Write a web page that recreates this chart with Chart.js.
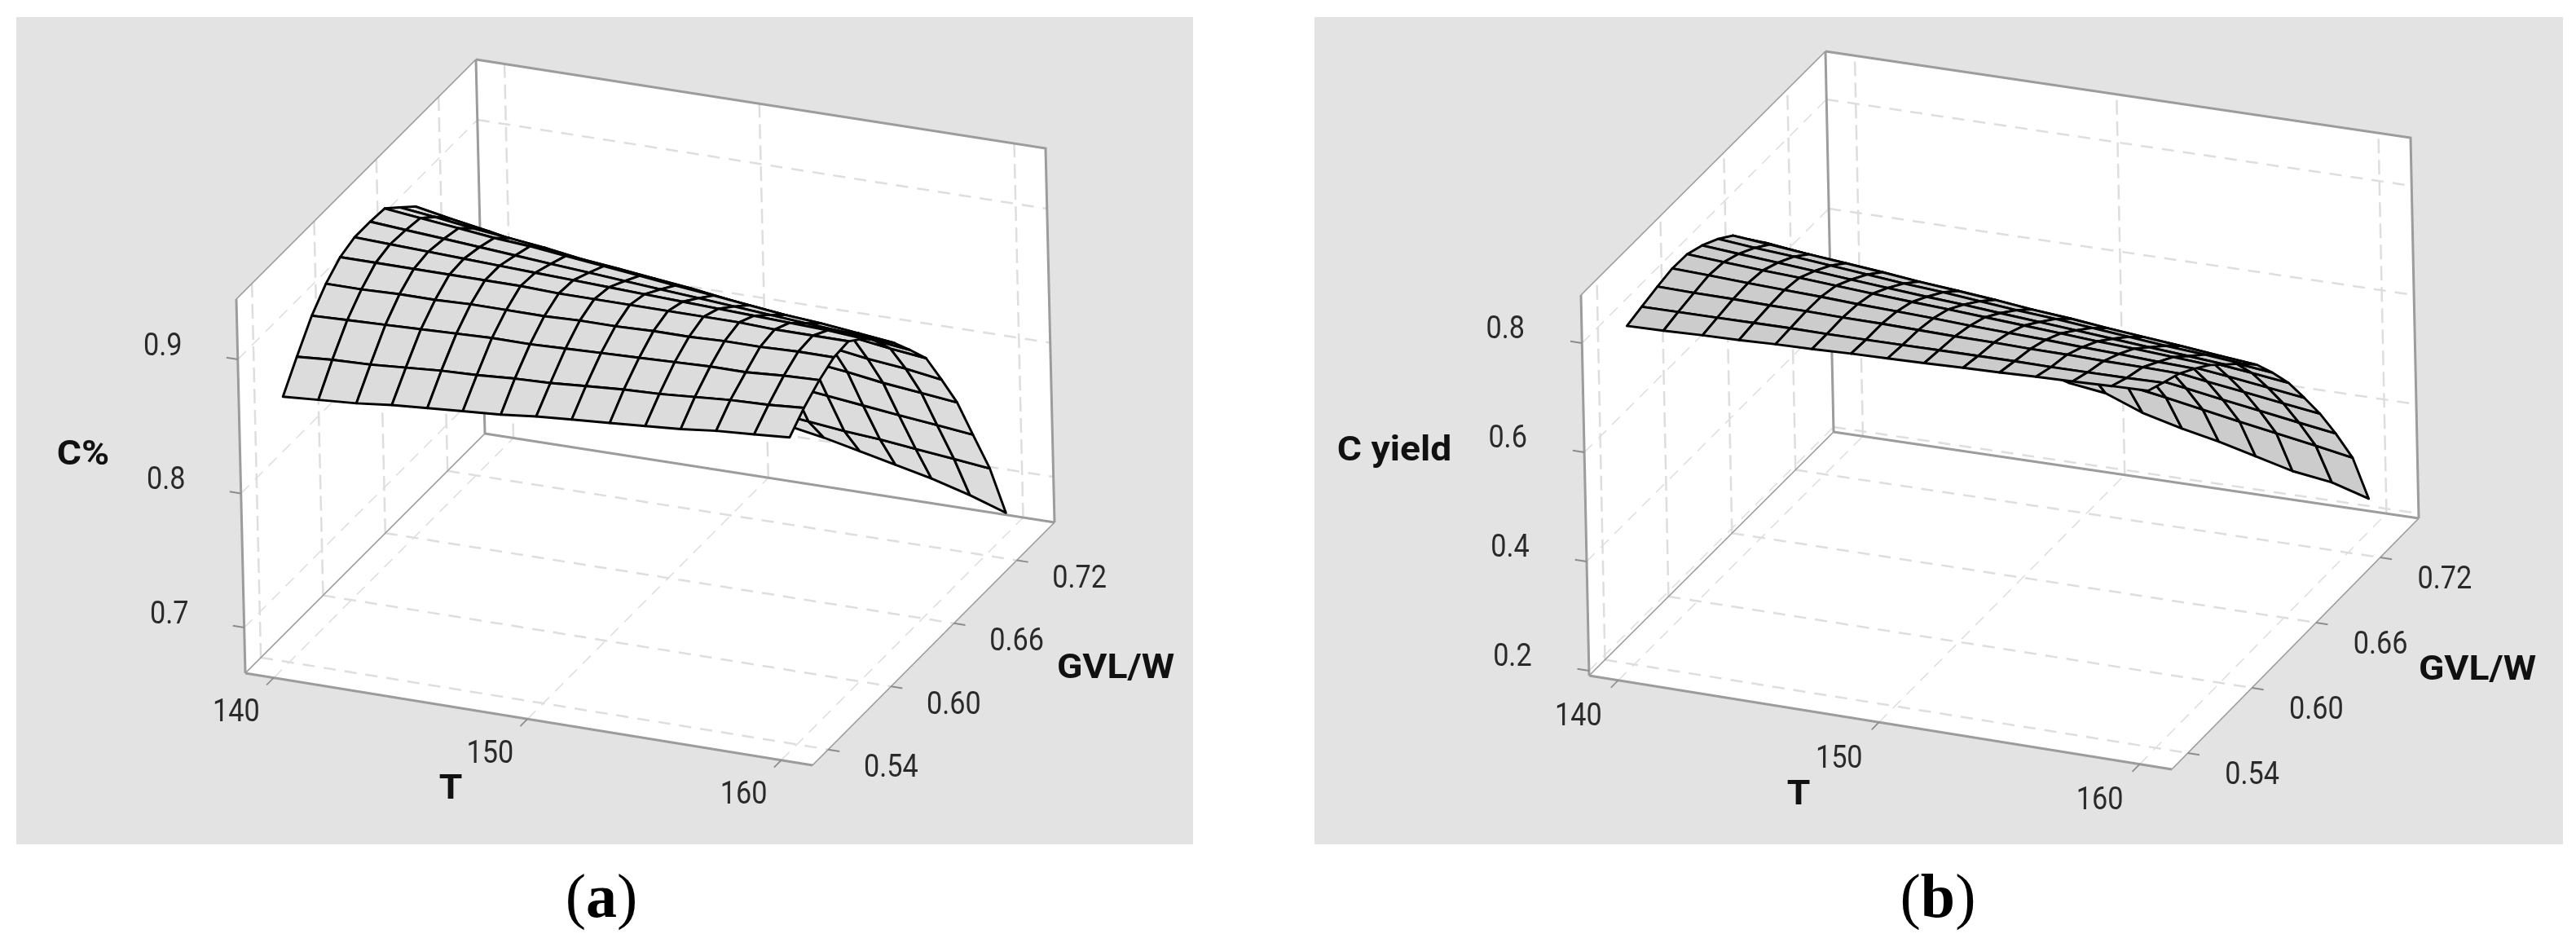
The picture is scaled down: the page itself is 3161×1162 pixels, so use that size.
<!DOCTYPE html>
<html lang="en">
<head>
<meta charset="UTF-8">
<title>C% and C yield surface plots</title>
<style>
    body { margin: 0; background: #fff; }
    canvas { position: absolute; background: #e3e3e3; }
    .caption { position: absolute; font-family: "Liberation Serif", serif; font-size: 76px; color: #000; transform: translateX(-50%); }
</style>
</head>
<body>
<canvas id="panel-a" width="1444" height="1015" style="left:20px;top:21px"></canvas>
<canvas id="panel-b" width="1532" height="1015" style="left:1613px;top:21px"></canvas>
<div class="caption" style="left:738px;top:1056px">(<b>a</b>)</div>
<div class="caption" style="left:2378px;top:1056px">(<b>b</b>)</div>

<script src="https://cdn.jsdelivr.net/npm/chart.js"></script>
<script>
const tempValues = [140, 141.4, 142.9, 144.3, 145.7, 147.1, 148.6, 150, 151.4, 152.9, 154.3, 155.7, 157.1, 158.6, 160];
const gvlValues = [0.54, 0.554, 0.569, 0.583, 0.597, 0.611, 0.626, 0.64, 0.654, 0.669, 0.683, 0.697, 0.711, 0.726, 0.74];
const tempTicks = [140, 150, 160];
const gvlTicks = [0.54, 0.60, 0.66, 0.72];
const gvlTickLabels = ['0.54', '0.60', '0.66', '0.72'];
const percentTicks = [0.7, 0.8, 0.9];
const yieldTicks = [0.2, 0.4, 0.6, 0.8];

// one row per GVL/W value, one column per T value
const percentRows = [
    [.864, .866, .868, .871, .873, .875, .877, .880, .882, .884, .886, .888, .891, .893, .895],
    [.883, .885, .886, .888, .890, .891, .893, .894, .896, .898, .899, .901, .903, .904, .906],
    [.902, .903, .904, .905, .906, .907, .907, .908, .909, .910, .911, .912, .912, .914, .915],
    [.915, .915, .916, .916, .917, .917, .917, .918, .918, .919, .919, .920, .920, .921, .921],
    [.924, .924, .924, .924, .924, .924, .923, .923, .923, .923, .923, .923, .922, .922, .922],
    [.928, .927, .926, .925, .924, .923, .922, .921, .920, .919, .918, .917, .916, .915, .913],
    [.928, .926, .924, .922, .920, .918, .916, .914, .912, .910, .908, .906, .904, .902, .900],
    [.927, .924, .921, .918, .916, .913, .910, .907, .904, .901, .898, .895, .893, .890, .887],
    [.917, .914, .910, .907, .904, .900, .897, .894, .891, .887, .884, .881, .877, .874, .871],
    [.906, .901, .896, .891, .887, .883, .880, .876, .873, .870, .866, .863, .860, .856, .853],
    [.878, .874, .871, .867, .863, .859, .856, .852, .848, .845, .841, .837, .833, .830, .826],
    [.844, .841, .837, .834, .831, .828, .824, .821, .818, .814, .811, .808, .804, .801, .798],
    [.805, .802, .799, .796, .793, .790, .787, .784, .781, .778, .775, .772, .769, .766, .763],
    [.766, .763, .760, .757, .755, .752, .749, .746, .743, .740, .737, .735, .732, .729, .726],
    [.752, .748, .744, .740, .737, .733, .729, .725, .722, .717, .711, .705, .699, .691, .682]
];
const yieldRows = [
    [.811, .813, .816, .818, .821, .823, .826, .828, .830, .833, .835, .838, .840, .843, .845],
    [.819, .820, .821, .822, .823, .823, .824, .825, .826, .827, .828, .828, .829, .830, .832],
    [.827, .826, .826, .825, .825, .824, .824, .823, .822, .822, .821, .821, .820, .820, .819],
    [.833, .831, .828, .826, .824, .821, .819, .817, .814, .812, .810, .807, .805, .802, .800],
    [.832, .828, .824, .821, .817, .813, .809, .806, .802, .798, .794, .790, .787, .783, .779],
    [.821, .816, .811, .806, .801, .796, .791, .787, .782, .777, .772, .767, .762, .757, .752],
    [.804, .798, .793, .787, .781, .775, .770, .764, .758, .753, .747, .741, .735, .730, .724],
    [.783, .777, .770, .764, .758, .751, .745, .739, .732, .726, .719, .713, .707, .700, .694],
    [.749, .742, .735, .728, .721, .714, .707, .701, .694, .687, .680, .673, .666, .659, .652],
    [.714, .706, .698, .690, .682, .674, .666, .659, .651, .643, .635, .627, .619, .611, .603],
    [.672, .663, .654, .645, .636, .628, .619, .610, .601, .592, .583, .574, .566, .557, .548],
    [.623, .614, .604, .595, .585, .576, .566, .557, .548, .538, .529, .519, .510, .500, .491],
    [.574, .563, .553, .542, .532, .521, .511, .500, .490, .479, .469, .458, .448, .437, .427],
    [.519, .507, .495, .483, .472, .460, .448, .436, .424, .412, .400, .388, .377, .365, .353],
    [.463, .456, .449, .435, .421, .400, .381, .372, .346, .328, .314, .297, .280, .270, .250]
];

const tempRange = [138.88, 161.23];
const gvlRange = [0.525, 0.756];

const panelA = {
    canvas: 'panel-a', rows: percentRows, zTicks: percentTicks, zLabel: 'C%',
    zRange: [0.666, 0.945], fillColor: '#dcdcdc',
    left: [301, 826], front: [997, 939], right: [1294, 641], back: [595, 532], lift: [-11, -459],
    box: [20, 21, 1444, 1015],
    zOffset: [-92, -15], tempOffset: [-46, 44], gvlOffset: [77, 24],
    zTitle: [102, 559], tempTitle: [553, 969], gvlTitle: [1369, 821]
};
const panelB = {
    canvas: 'panel-b', rows: yieldRows, zTicks: yieldTicks, zLabel: 'C yield',
    zRange: [0.191, 0.888], fillColor: '#cccccc',
    left: [1950, 829], front: [2665, 944], right: [2968, 636], back: [2250, 530], lift: [-10, -467],
    box: [1613, 21, 1532, 1015],
    zOffset: [-94, -15], tempOffset: [-49, 46], gvlOffset: [79, 28],
    zTitle: [1711, 554], tempTitle: [2207, 976], gvlTitle: [3040, 823]
};

const frac = (v, range) => (v - range[0]) / (range[1] - range[0]);

// the plot is an orthographic box, so T/GVL/z go straight to page pixels
function project(p, temp, gvl, z) {
    const t = frac(temp, tempRange), g = frac(gvl, gvlRange), h = frac(z, p.zRange);
    const at = k => p.left[k] * (1 - t) * (1 - g) + p.front[k] * t * (1 - g)
        + p.right[k] * t * g + p.back[k] * (1 - t) * g + p.lift[k] * h;
    return { x: at(0), y: at(1) };
}

function lineSet(points, color, width, dash) {
    return {
        data: points, showLine: true, fill: false, pointRadius: 0,
        borderColor: color, borderWidth: width, borderDash: dash || [], tension: 0
    };
}

function shapeSet(points, fillColor, edgeColor, width) {
    return {
        data: points.concat([points[0]]), showLine: true, fill: 'shape', pointRadius: 0,
        backgroundColor: fillColor, borderColor: edgeColor, borderWidth: width, tension: 0,
        borderJoinStyle: 'round', borderCapStyle: 'round'
    };
}

function buildDatasets(p) {
    const [t0, t1] = tempRange, [g0, g1] = gvlRange, [z0, z1] = p.zRange;
    const P = (t, g, z) => project(p, t, g, z);
    const sets = [];
    const edge = '#9c9c9c', grid = '#dedede';
    const wallDash = [18, 8], floorDash = [15, 11], thinDash = [14, 10];

    // white walls and floor
    sets.push(shapeSet([P(t0, g0, z0), P(t1, g0, z0), P(t1, g1, z0), P(t0, g1, z0)], '#fff', '#fff', 1));
    sets.push(shapeSet([P(t0, g0, z0), P(t0, g1, z0), P(t0, g1, z1), P(t0, g0, z1)], '#fff', '#fff', 1));
    sets.push(shapeSet([P(t0, g1, z0), P(t1, g1, z0), P(t1, g1, z1), P(t0, g1, z1)], '#fff', '#fff', 1));

    // dashed grid on the three faces
    tempTicks.forEach(t => {
        sets.push(lineSet([P(t, g0, z0), P(t, g1, z0)], grid, 1.5, thinDash));
        sets.push(lineSet([P(t, g1, z0), P(t, g1, z1)], grid, 2.5, wallDash));
    });
    gvlTicks.forEach(g => {
        sets.push(lineSet([P(t0, g, z0), P(t1, g, z0)], grid, 2.5, floorDash));
        sets.push(lineSet([P(t0, g, z0), P(t0, g, z1)], grid, 2.5, wallDash));
    });
    p.zTicks.forEach(z => {
        sets.push(lineSet([P(t0, g0, z), P(t0, g1, z)], grid, 1.5, thinDash));
        sets.push(lineSet([P(t0, g1, z), P(t1, g1, z)], grid, 2.5, floorDash));
    });

    // box edges, the ones running along GVL/W are thinner
    [
        [P(t0, g0, z0), P(t1, g0, z0)],
        [P(t0, g1, z0), P(t1, g1, z0)],
        [P(t0, g0, z0), P(t0, g0, z1)],
        [P(t0, g1, z0), P(t0, g1, z1)],
        [P(t0, g1, z1), P(t1, g1, z1), P(t1, g1, z0)]
    ].forEach(pts => sets.push(lineSet(pts, edge, 3)));
    [
        [P(t1, g0, z0), P(t1, g1, z0)],
        [P(t0, g0, z0), P(t0, g1, z0)],
        [P(t0, g0, z1), P(t0, g1, z1)]
    ].forEach(pts => sets.push(lineSet(pts, edge, 1.7)));

    // ticks
    const tickT = (t1 - t0) * 0.02, tickG = (g1 - g0) * 0.03;
    tempTicks.forEach(t => sets.push(lineSet([P(t, g0, z0), P(t, g0 - tickG, z0)], '#8c8c8c', 1.7)));
    gvlTicks.forEach(g => sets.push(lineSet([P(t1, g, z0), P(t1 + tickT, g, z0)], '#8c8c8c', 2)));
    p.zTicks.forEach(z => sets.push(lineSet([P(t0, g0, z), P(t0 - tickT, g0, z)], '#8c8c8c', 2)));

    // surface, far corner first so nearer cells paint over it
    for (let j = gvlValues.length - 2; j >= 0; j--) {
        for (let i = 0; i < tempValues.length - 1; i++) {
            sets.push(shapeSet([
                P(tempValues[i], gvlValues[j], p.rows[j][i]),
                P(tempValues[i + 1], gvlValues[j], p.rows[j][i + 1]),
                P(tempValues[i + 1], gvlValues[j + 1], p.rows[j + 1][i + 1]),
                P(tempValues[i], gvlValues[j + 1], p.rows[j + 1][i])
            ], p.fillColor, '#000', 2.9));
        }
    }
    // Chart.js paints the first dataset last
    return sets.reverse();
}

function drawText(chart, text, x, y, bold) {
    const ctx = chart.ctx;
    ctx.save();
    ctx.translate(chart.scales.x.getPixelForValue(x), chart.scales.y.getPixelForValue(y));
    ctx.scale(bold ? 1.1 : 0.9, 1);
    ctx.font = (bold ? 'bold 42px' : '38px') + ' Roboto, sans-serif';
    ctx.fillStyle = bold ? '#111' : '#2a2a2a';
    ctx.textAlign = 'center';
    ctx.textBaseline = 'middle';
    ctx.fillText(text, 0, 0);
    ctx.restore();
}

const axisText = {
    id: 'axisText',
    afterDraw(chart, args, opts) {
        const p = opts.panel;
        const [t0, t1] = tempRange, [g0] = gvlRange, [z0] = p.zRange;
        p.zTicks.forEach(z => {
            const a = project(p, t0, g0, z);
            drawText(chart, z.toFixed(1), a.x + p.zOffset[0], a.y + p.zOffset[1]);
        });
        tempTicks.forEach(t => {
            const a = project(p, t, g0, z0);
            drawText(chart, String(t), a.x + p.tempOffset[0], a.y + p.tempOffset[1]);
        });
        gvlTicks.forEach((g, k) => {
            const a = project(p, t1, g, z0);
            drawText(chart, gvlTickLabels[k], a.x + p.gvlOffset[0], a.y + p.gvlOffset[1]);
        });
        drawText(chart, p.zLabel, p.zTitle[0], p.zTitle[1], true);
        drawText(chart, 'T', p.tempTitle[0], p.tempTitle[1], true);
        drawText(chart, 'GVL/W', p.gvlTitle[0], p.gvlTitle[1], true);
    }
};

function makeChart(p) {
    const [bx, by, bw, bh] = p.box;
    new Chart(document.getElementById(p.canvas), {
        type: 'scatter',
        data: { datasets: buildDatasets(p) },
        options: {
            responsive: false,
            animation: false,
            layout: { padding: 0 },
            scales: {
                x: { type: 'linear', display: false, min: bx, max: bx + bw },
                y: { type: 'linear', display: false, min: by, max: by + bh, reverse: true }
            },
            plugins: {
                legend: { display: false },
                tooltip: { enabled: false },
                axisText: { panel: p }
            }
        },
        plugins: [axisText]
    });
}

makeChart(panelA);
makeChart(panelB);
</script>
</body>
</html>
